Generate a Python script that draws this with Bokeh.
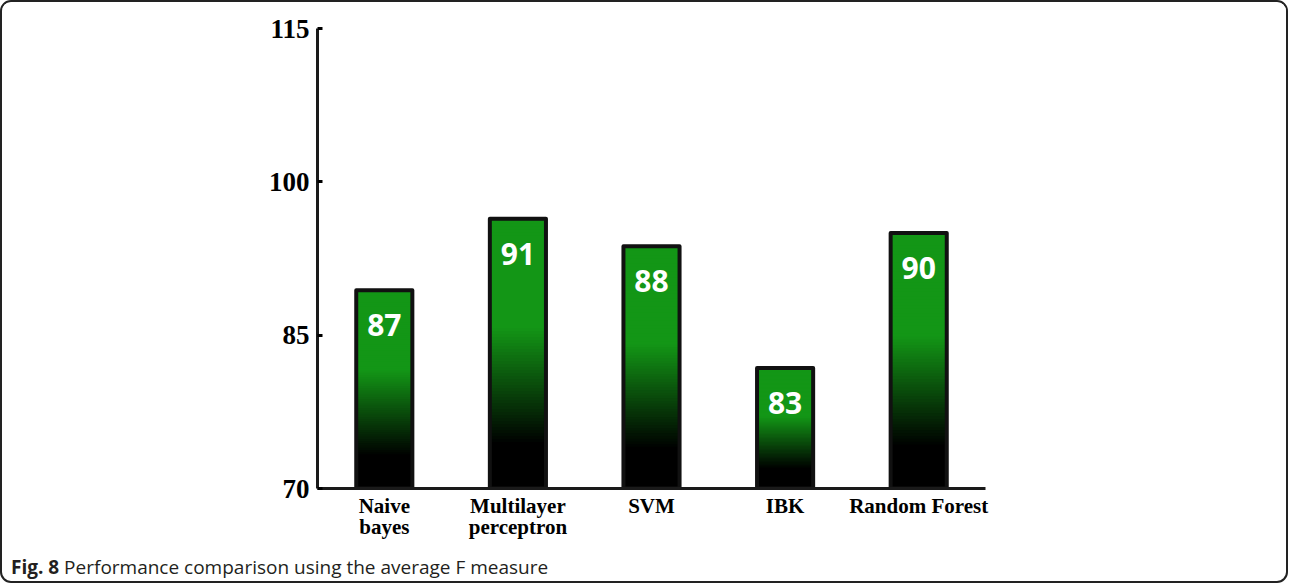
from bokeh.plotting import figure
from bokeh.models import Range1d, FactorRange, FixedTicker, Div
from bokeh.layouts import column
from bokeh.core.properties import value
from bokeh.embed import file_html
from bokeh.resources import INLINE

# ---- data ----
categories = ["Naive\nbayes", "Multilayer\nperceptron", "SVM", "IBK", "Random Forest"]
bar_heights = [89.4, 96.4, 93.7, 81.8, 95.0]      # drawn bar tops
value_labels = ["87", "91", "88", "83", "90"]     # printed labels inside the bars
y_ticks = [70, 85, 100, 115]
caption_bold = "Fig. 8"
caption_text = "Performance comparison using the average F measure"

BASE = 70
GREEN = (19, 150, 22)
N_SLICES = 90

def lerp_color(f):
    # f: 0 at bar top, 1 at bar bottom
    if f <= 0.42:
        t = 0.0
    elif f >= 0.85:
        t = 1.0
    else:
        t = (f - 0.42) / 0.43
    r, g, b = (int(round(c * (1 - t))) for c in GREEN)
    return "#%02x%02x%02x" % (r, g, b)

sx, sb, st, sc = [], [], [], []
for cat, h in zip(categories, bar_heights):
    step = (h - BASE) / N_SLICES
    for j in range(N_SLICES):
        lo = BASE + step * j
        hi = min(h, lo + 2.5 * step)
        f = 1 - (j + 0.5) / N_SLICES
        sx.append(cat); sb.append(lo); st.append(hi); sc.append(lerp_color(f))
# draw from top slice down so every lower slice overlaps the seam of the one above
sx, sb, st, sc = sx[::-1], sb[::-1], st[::-1], sc[::-1]

p = figure(width=1284, height=553, output_backend="svg", toolbar_location=None,
           x_range=FactorRange(*categories, range_padding=0),
           y_range=Range1d(70, 115),
           min_border_left=315, min_border_right=301, min_border_top=26,
           min_border_bottom=67)
p.outline_line_color = None
p.grid.visible = False
p.background_fill_color = "white"
p.border_fill_color = "white"

W = 0.42
p.vbar(x=sx, bottom=sb, top=st, width=W, fill_color=sc, line_color=None)
p.vbar(x=categories, bottom=[BASE] * len(categories), top=bar_heights, width=W,
       fill_color=None, line_color="#111111", line_width=4, line_join="round")

p.text(x=categories, y=bar_heights, text=value_labels, text_color="white",
       text_font=value("Open Sans"), text_font_style="bold", text_font_size="30px",
       text_align="center", text_baseline="middle", y_offset=35)

# y axis
ya = p.yaxis[0]
ya.ticker = FixedTicker(ticks=y_ticks)
ya.axis_line_width = 3
ya.axis_line_color = "#1a1a1a"
ya.major_tick_in = 5
ya.major_tick_out = 0
ya.major_tick_line_width = 3
ya.minor_tick_line_color = None
ya.major_label_text_font = "Liberation Serif"
ya.major_label_text_font_style = "bold"
ya.major_label_text_font_size = "27px"
ya.major_label_text_color = "black"
ya.major_label_standoff = 8

# x axis
xa = p.xaxis[0]
xa.axis_line_width = 3
xa.axis_line_color = "#1a1a1a"
xa.major_tick_line_color = None
xa.major_tick_out = 0
xa.major_tick_in = 0
xa.major_label_text_font = "Liberation Serif"
xa.major_label_text_font_style = "bold"
xa.major_label_text_font_size = "21px"
xa.major_label_text_color = "black"
xa.major_label_standoff = 5
xa.major_label_text_line_height = 0.9

# caption
caption = Div(text="<span style='font-weight:bold'>%s</span> %s" % (caption_bold, caption_text),
              width=1275, height=26, margin=0,
              styles={"font-family": "'Open Sans'", "font-size": "19px", "color": "#231f20",
                      "line-height": "24px", "padding-left": "9px"})

layout = column(p, caption, spacing=0,
                styles={"border": "2px solid #222222", "border-radius": "11px",
                        "overflow": "hidden", "background": "white"})

open("out.html", "w").write(file_html(layout, INLINE))
